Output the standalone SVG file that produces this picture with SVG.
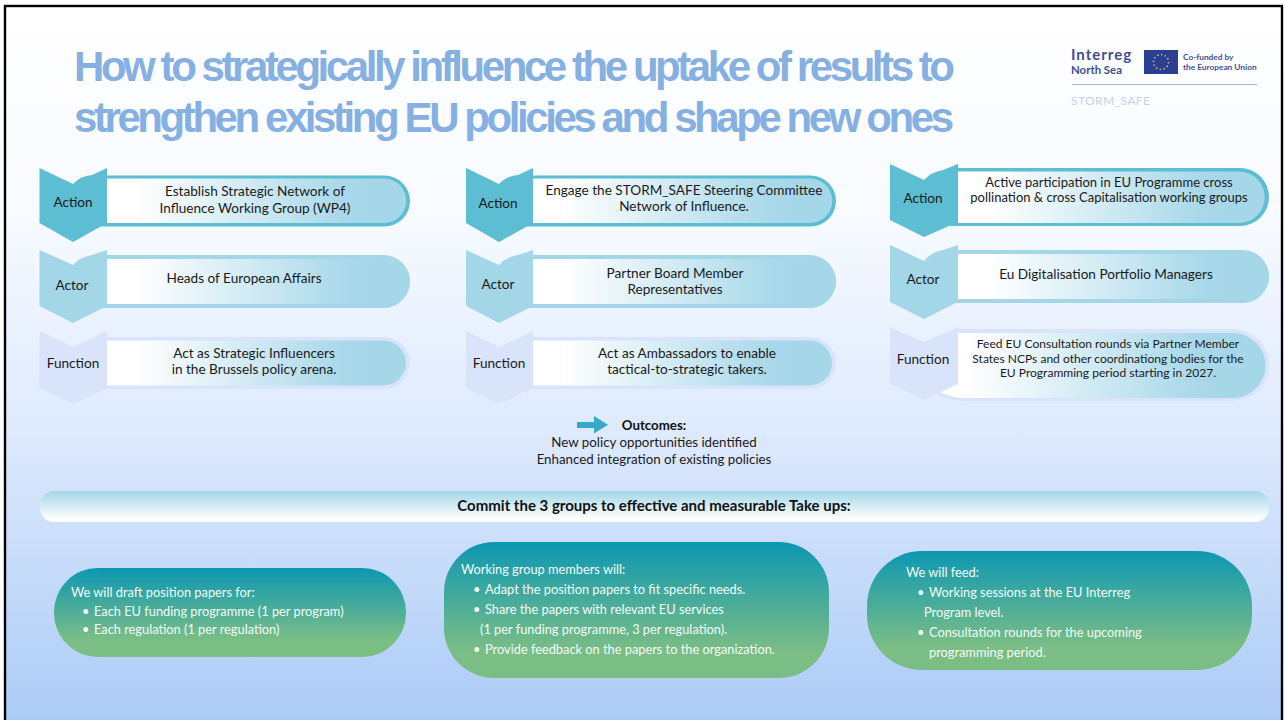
<svg xmlns="http://www.w3.org/2000/svg" width="1284" height="720" viewBox="0 0 1284 720">
<defs>
<linearGradient id="bg" x1="0" y1="0" x2="0" y2="1"><stop offset="0" stop-color="#ffffff"/><stop offset="0.3" stop-color="#f7faff"/><stop offset="0.62" stop-color="#dbe8fd"/><stop offset="1" stop-color="#abcbf6"/></linearGradient>
<linearGradient id="panel" x1="0" y1="0" x2="1" y2="0"><stop offset="0" stop-color="#ffffff"/><stop offset="0.1" stop-color="#ffffff"/><stop offset="0.8" stop-color="#a8d8e9"/><stop offset="1" stop-color="#a4d7e8"/></linearGradient>
<linearGradient id="bar" x1="0" y1="0" x2="0" y2="1"><stop offset="0" stop-color="#a3d6e6"/><stop offset="0.9" stop-color="#ffffff"/><stop offset="1" stop-color="#ffffff"/></linearGradient>
<linearGradient id="box" x1="0" y1="0" x2="0" y2="1"><stop offset="0" stop-color="#0d97b3"/><stop offset="0.8" stop-color="#7abd85"/><stop offset="1" stop-color="#7abd85"/></linearGradient>
</defs>
<style>
text{font-family:"Lato","Carlito","Liberation Sans",sans-serif;font-size:13.6px;fill:#1a1a1a}
.m{text-anchor:middle}
.title{font-family:"Liberation Sans",Arial,sans-serif;font-weight:700;font-size:42px;fill:#86afe2}
.w{fill:#f2fbf6;font-size:12.8px}
.b{font-weight:700;fill:#111}
.action{fill:#5cbdd3}.actor{fill:#a3d6e6}.function{fill:#d9e4fb}
.panel{fill:url(#panel)}
.box{fill:url(#box)}
.logo{font-weight:700;fill:#3f4f94}
</style>
<rect x="5" y="6" width="1277" height="716" fill="url(#bg)" stroke="#000" stroke-width="2.4"/>
<text class="title" x="74" y="81" textLength="881">How to strategically influence the uptake of results to</text>
<text class="title" x="74" y="132" textLength="880">strengthen existing EU policies and shape new ones</text>

<g id="logo">
<text class="logo" x="1071" y="60" style="font-size:15px;letter-spacing:1px">Interreg</text>
<text class="logo" x="1071" y="73.500" style="font-size:11.400px">North Sea</text>
<rect x="1144" y="50" width="34" height="24" fill="#2a3f94"/>
<circle cx="1161" cy="62" r="7.500" fill="none" stroke="#d9c95a" stroke-width="1.500" stroke-dasharray="1.400 2.500"/>
<text class="logo" x="1183" y="60" style="font-size:8.300px">Co-funded by</text>
<text class="logo" x="1183" y="69.500" style="font-size:8.300px">the European Union</text>
<path d="M1072 84.500H1257" stroke="#a9b2ce" stroke-width="1"/>
<text x="1071" y="105" style="font-size:12.200px;fill:#c9d3e6;letter-spacing:.3px">STORM_SAFE</text>
</g>

<g id="col1-action">
<path class="action" d="M100 175.500H384.500A25.500 25.500 0 0 1 384.500 226.500H100Z"/>
<path class="panel" d="M107 178.500H384A22.250 22.250 0 0 1 384 223H107Z"/>
<path class="action" d="M39.500 168L73 184Q80 176 92 175L107 168V223L73 242L39.500 223Z"/>
<text class="m" x="73" y="207">Action</text>
<text class="m" x="255" y="196">Establish Strategic Network of</text>
<text class="m" x="255" y="212.500">Influence Working Group (WP4)</text>
</g>
<g id="col1-actor">
<path class="actor" d="M100 255H383.500A26.500 26.500 0 0 1 383.500 308H100Z"/>
<path class="panel" d="M107 259H387.500A22.500 22.500 0 0 1 387.500 304H107Z"/>
<path class="actor" d="M39.500 250L73 265Q80 257 92 255L107 250V306L73 323L39.500 306Z"/>
<text class="m" x="72" y="290">Actor</text>
<text class="m" x="244" y="283">Heads of European Affairs</text>
</g>
<g id="col1-function">
<path class="function" d="M100 337H384A26 26 0 0 1 384 389H100Z"/>
<path class="panel" d="M107 340.500H383.500A22.500 22.500 0 0 1 383.500 385.500H107Z"/>
<path class="function" d="M39.500 331L73 347L107 331V388L73 404L39.500 388Z"/>
<text class="m" x="73" y="368">Function</text>
<text class="m" x="254" y="358">Act as Strategic Influencers</text>
<text class="m" x="254" y="374">in the Brussels policy arena.</text>
</g>

<g id="col2-action">
<path class="action" d="M526 175.500H810.500A25.500 25.500 0 0 1 810.500 226.500H526Z"/>
<path class="panel" d="M533 178.500H810A22.250 22.250 0 0 1 810 223H533Z"/>
<path class="action" d="M466 168L499 184Q506 176 518 175L533 168V223L499 242L466 223Z"/>
<text class="m" x="498" y="208">Action</text>
<text class="m" x="684" y="195">Engage the STORM_SAFE Steering Committee</text>
<text class="m" x="684" y="211">Network of Influence.</text>
</g>
<g id="col2-actor">
<path class="actor" d="M526 255H809.500A26.500 26.500 0 0 1 809.500 308H526Z"/>
<path class="panel" d="M533 259H813.500A22.500 22.500 0 0 1 813.500 304H533Z"/>
<path class="actor" d="M466 250L499 265Q506 257 518 255L533 250V306L499 323L466 306Z"/>
<text class="m" x="498" y="289">Actor</text>
<text class="m" x="675" y="278">Partner Board Member</text>
<text class="m" x="675" y="294">Representatives</text>
</g>
<g id="col2-function">
<path class="function" d="M526 337H810A26 26 0 0 1 810 389H526Z"/>
<path class="panel" d="M533 340.500H809.500A22.500 22.500 0 0 1 809.500 385.500H533Z"/>
<path class="function" d="M466 331L499 347L533 331V388L499 404L466 388Z"/>
<text class="m" x="499" y="368">Function</text>
<text class="m" x="687" y="358">Act as Ambassadors to enable</text>
<text class="m" x="687" y="374">tactical-to-strategic takers.</text>
</g>

<g id="col3-action">
<path class="action" d="M950 168H1240A29 29 0 0 1 1240 226H950Z"/>
<path class="panel" d="M958 171.500H1239A25.750 25.750 0 0 1 1239 223H958Z"/>
<path class="action" d="M890 164L924 180Q931 172 943 170L958 164V222L924 237L890 220Z"/>
<text class="m" x="923" y="203">Action</text>
<text class="m" x="1109" y="187" style="font-size:13px">Active participation in EU Programme cross</text>
<text class="m" x="1109" y="202" style="font-size:13px">pollination &amp; cross Capitalisation working groups</text>
</g>
<g id="col3-actor">
<path class="actor" d="M950 250H1242.500A26.500 26.500 0 0 1 1242.500 303H950Z"/>
<path class="panel" d="M958 254H1246.500A22.500 22.500 0 0 1 1246.500 299H958Z"/>
<path class="actor" d="M890 245L924 261Q931 252 943 250L958 245V302L924 319L890 302Z"/>
<text class="m" x="923" y="284">Actor</text>
<text class="m" x="1106" y="279">Eu Digitalisation Portfolio Managers</text>
</g>
<g id="col3-function">
<path class="function" d="M958 329H1233A36 36 0 0 1 1233 401H966Q945 401 930 390Z"/>
<path class="panel" d="M958 333H1233A32.500 32.500 0 0 1 1233 398H966Q948 398 935 389Z"/>
<path class="function" d="M890 327L924 342L958 327V384L924 400L890 384Z"/>
<text class="m" x="923" y="364">Function</text>
<text class="m" x="1108" y="348" style="font-size:12.050px">Feed EU Consultation rounds via Partner Member</text>
<text class="m" x="1108" y="363" style="font-size:12.050px">States NCPs and other coordinationg bodies for the</text>
<text class="m" x="1108" y="377" style="font-size:12.050px">EU Programming period starting in 2027.</text>
</g>

<g id="connectors">
<path d="M577 422H594V416L608 424.700L594 433.500V428H577Z" fill="#36a9c6"/>
</g>
<g id="outcomes">
<text class="m b" x="654" y="430" style="font-size:13.300px">Outcomes:</text>
<text class="m" x="654" y="447" style="font-size:13.300px">New policy opportunities identified</text>
<text class="m" x="654" y="464" style="font-size:13.300px">Enhanced integration of existing policies</text>
</g>
<g id="commit-bar">
<rect x="40" y="491" width="1229" height="31" rx="14" fill="url(#bar)"/>
<text class="m b" x="654" y="511" style="font-size:15px">Commit the 3 groups to effective and measurable Take ups:</text>
</g>
<g id="box-left">
<rect x="54" y="568" width="352" height="89" rx="44" class="box"/>
<text class="w" x="71" y="597">We will draft position papers for:</text>
<text class="w" x="82" y="616">•</text><text class="w" x="94" y="616">Each EU funding programme (1 per program)</text>
<text class="w" x="82" y="634">•</text><text class="w" x="94" y="634">Each regulation (1 per regulation)</text>
</g>
<g id="box-middle">
<rect x="444" y="542" width="385" height="136" rx="50" class="box"/>
<text class="w" x="461" y="574">Working group members will:</text>
<text class="w" x="473" y="594">•</text><text class="w" x="485" y="594">Adapt the position papers to fit specific needs.</text>
<text class="w" x="473" y="614">•</text><text class="w" x="485" y="614">Share the papers with relevant EU services</text>
<text class="w" x="480" y="634">(1 per funding programme, 3 per regulation).</text>
<text class="w" x="473" y="654">•</text><text class="w" x="485" y="654">Provide feedback on the papers to the organization.</text>
</g>
<g id="box-right">
<rect x="867" y="551" width="385" height="119" rx="55" class="box"/>
<text class="w" x="906" y="577">We will feed:</text>
<text class="w" x="917" y="597">•</text><text class="w" x="929" y="597">Working sessions at the EU Interreg</text>
<text class="w" x="924" y="617">Program level.</text>
<text class="w" x="917" y="637">•</text><text class="w" x="929" y="637">Consultation rounds for the upcoming</text>
<text class="w" x="929" y="657">programming period.</text>
</g>
</svg>
